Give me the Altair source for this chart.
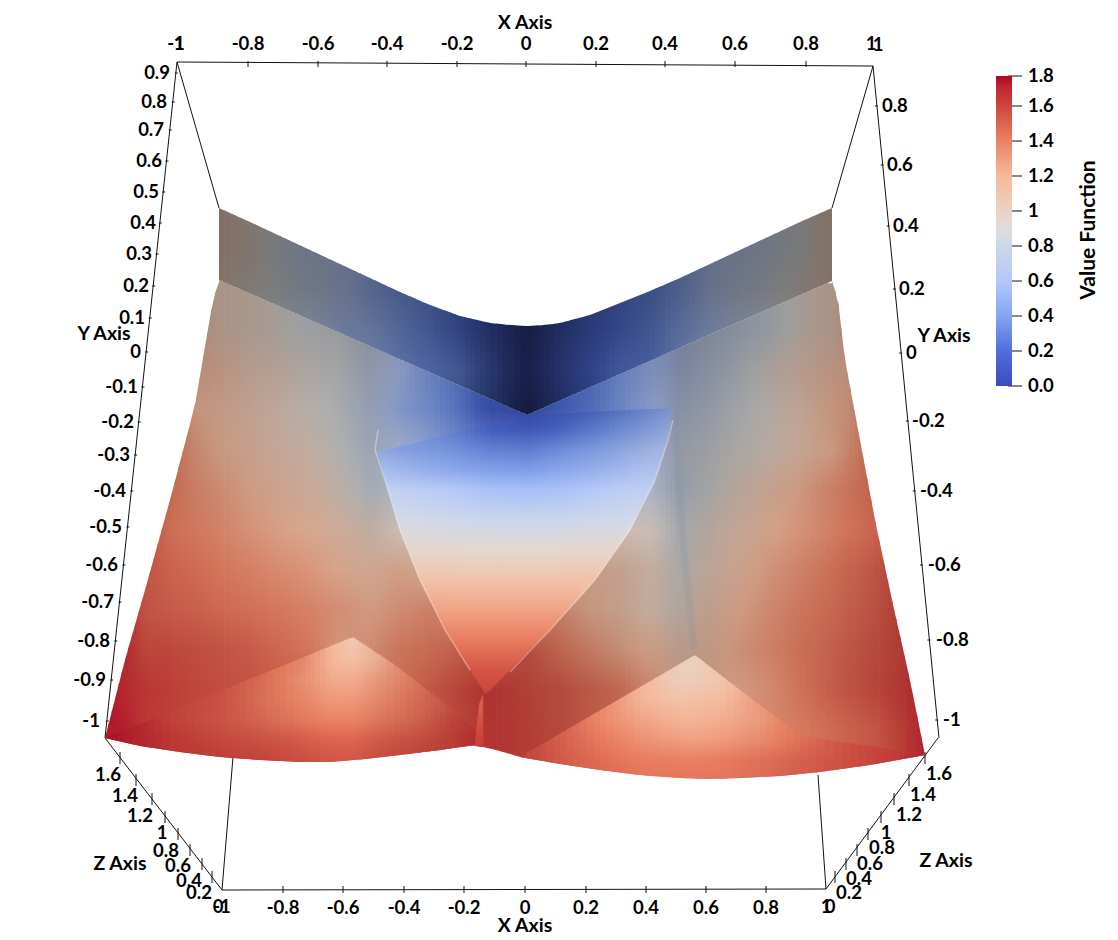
import altair as alt
import numpy as np
import pandas as pd

N = None
FONT = "Lato"
LABEL_SIZE = 18.5

# ---------- colour map ----------
CMAP_VALUES = [0.0, 0.2, 0.4, 0.6, 0.8, 0.9, 1.0, 1.2, 1.4, 1.6, 1.77]
CMAP_COLOURS = ["#3b4cc0", "#4f6edb", "#84a5f5", "#b4c8fa", "#cdd7eb", "#dddddd",
                "#ebd2c3", "#f5b99b", "#eb8264", "#cd463c", "#b40426"]
LEGEND_VALUES = [0.2, 0.4, 0.6, 0.8, 1.0, 1.2, 1.4, 1.6]
LEGEND_TICK_Y = [386, 351, 316, 281, 246, 211, 176, 141, 106, 76]
LEGEND_END_LABELS = ["0.0", "1.8"]
LEGEND_END_Y = [386, 76]

# ---------- surface outline ----------
EDGE_TOP_X = [105, 125, 145, 170, 195, 213, 219, 250, 280, 310, 340, 370, 400, 430, 460, 490, 510, 527, 545, 560, 590, 620, 650, 680, 710, 740, 770, 800, 832]
EDGE_TOP_Y = [738, 660, 590, 500, 405, 300, 208, 222, 236, 250, 264, 278, 292, 305, 316, 323, 325, 326, 325, 323, 315, 303, 291, 278, 264, 250, 236, 222, 208]
EDGE_BOT_X = [105,140,180,220,260,300,330,365,400,440,475,500,520,560,600,640,680,710,740,780,820,870,925]
EDGE_BOT_Y = [738,746,752,757,760,762,762,759,755,750,745,751,757,764,770,775,778,779,778,776,772,765,755]

# ---------- top band (above the crease through the origin) ----------
BAND_X = [219, 250, 280, 310, 340, 370, 400, 430, 460, 490, 527, 560, 590, 620, 650, 680, 710, 740, 770, 800, 832]
BAND_ROWS = [210, 250, 290, 330, 370, 410]
BAND_V = [
 [1.05,N,N,N,N,N,N,N,N,N,N,N,N,N,N,N,N,N,N,N,1.05],
 [1.05,.98,.85,.72,N,N,N,N,N,N,N,N,N,N,N,N,N,.7,.78,.9,1.05],
 [1.03,.95,.87,.76,.65,.5,.38,.3,.24,.16,.08,.14,.18,.24,.3,.42,.6,.75,.86,.95,N],
 [N,N,N,N,.58,.52,.4,.3,.22,.14,.06,.14,.15,.22,.3,.44,.58,N,N,N,N],
 [N,N,N,N,N,N,N,.33,.3,.2,.05,.14,.18,.27,N,N,N,N,N,N,N],
 [N,N,N,N,N,N,N,N,N,N,.03,N,N,N,N,N,N,N,N,N,N],
]
BAND_SHADE_COLS = [1,1,1,1,1,1,1,1,.92,.75,.55,.75,.92,1,1,1,1,1,1,1,1]
BAND_SHADE_ROWS = [.55,.55,.56,.62,.68,.6]
BAND_BOT_X = [219, 527, 832]
BAND_BOT_Y = [280, 415, 281]

# ---------- side panels ----------
BASE_X = [105,125,145,170,195,219,250,280,310,340,370,400,430,460,490,527,560,590,620,650,680,710,740,770,800,832,850,875,900,925]
BASE_ROWS = [290, 330, 370, 410, 450, 490, 530, 570, 610, 650, 690, 730]
BASE_V = [
 [N,N,N,N,N,1.05,N,N,N,N,N,N,N,N,N,N,N,N,N,N,N,N,N,N,N,1.05,N,N,N,N],
 [N,N,N,N,N,1.05,1.0,.93,.87,N,N,N,N,N,N,N,N,N,N,N,N,N,.78,.85,.95,1.05,N,N,N,N],
 [N,N,N,N,N,1.15,1.05,1.0,.93,.88,.78,.6,N,N,N,N,N,N,N,.52,.65,.76,.85,.95,1.05,1.15,1.2,N,N,N],
 [N,N,N,N,1.2,1.15,1.08,1.0,.93,.88,.75,.52,.42,.3,.12,.05,.2,.28,.4,.55,.72,.82,.88,.94,1.05,1.2,1.25,N,N,N],
 [N,N,N,N,1.28,1.2,1.12,1.05,1.0,.9,.8,.7,.55,.42,.35,.32,.42,.5,.6,.7,.82,.88,.92,.98,1.07,1.2,1.3,N,N,N],
 [N,N,N,N,1.33,1.28,1.2,1.13,1.07,.97,.85,.8,.7,.6,.55,.55,.6,.65,.7,.8,.8,.9,1.0,1.1,1.22,1.32,1.38,N,N,N],
 [N,N,N,1.42,1.38,1.34,1.27,1.22,1.16,1.08,1.0,.95,.85,.8,.8,.8,.8,.85,1.0,.95,.88,.98,1.07,1.17,1.27,1.35,1.4,1.45,N,N],
 [N,N,N,1.47,1.44,1.4,1.36,1.31,1.27,1.18,1.12,1.2,1.1,1.1,1.1,1.1,1.1,1.15,1.1,1.02,.92,1.02,1.14,1.25,1.32,1.4,1.45,1.5,N,N],
 [N,N,1.53,1.5,1.48,1.45,1.42,1.39,1.35,1.28,1.22,1.28,1.33,1.3,1.3,1.3,1.3,1.2,1.12,1.03,.96,1.1,1.2,1.3,1.37,1.43,1.47,1.52,N,N],
 [N,N,1.58,1.57,1.55,1.53,1.5,1.45,1.4,1.25,1.28,1.38,1.42,1.47,1.5,1.53,1.42,1.33,1.24,1.18,1.08,1.15,1.25,1.33,1.4,1.46,1.5,1.55,1.6,N],
 [N,1.66,1.63,1.61,1.58,1.56,1.54,1.5,1.5,1.45,1.42,1.42,1.5,1.58,1.63,1.58,1.53,1.48,1.42,1.3,1.15,1.2,1.22,1.3,1.4,1.48,1.52,1.57,1.62,N],
 [1.72,1.7,N,N,N,N,N,N,N,N,N,N,N,N,1.63,1.6,1.55,N,N,N,N,N,1.28,1.33,1.38,1.44,1.48,1.52,1.6,1.68],
]
BASE_SHADE_ROWS = [.72,.72,.76,.8,.82,.84,.88,.9,.9,.9,.92,.95]
BASE_SHADE_UPPER = [1,1,1,1,1,1,1,1,1,.97,.93,1,1,1,1,1,1,1,1,1,.86,.88,.93,.97,1,1,1,1,1,1]
BASE_SHADE_LOWER = [1,1,1,1,1,1,1,1,1,.97,.95,.95,.95,.95,.93,.92,.9,.9,.9,.92,.85,.88,.93,.95,.95,.95,.95,.95,.95,.95]
BASE_TOP_X = [105,125,145,170,195,213,219,527,832,838,845,860,875,892,910,925]
BASE_TOP_Y = [738,660,590,500,405,300,280,415,281,300,360,440,520,600,680,755]

# ---------- bottom-left patch ----------
LEFT_X = [105,125,170,219,260,300,330,353,380,420,450,482]
LEFT_ROWS = [640,660,680,700,720,740,760]
LEFT_V = [
 [N,N,N,N,N,N,N,1.08,N,N,N,N],
 [N,N,N,N,N,1.38,1.22,1.15,1.22,N,N,N],
 [N,N,N,N,1.46,1.35,1.26,1.25,1.3,1.42,N,N],
 [N,N,N,1.55,1.45,1.38,1.32,1.32,1.36,1.45,1.52,N],
 [N,N,1.6,1.54,1.48,1.42,1.4,1.4,1.42,1.48,1.57,1.64],
 [1.75,1.7,1.63,1.58,1.55,1.52,1.5,1.5,1.52,1.56,1.6,1.66],
 [N,N,N,1.62,1.6,1.57,1.55,1.55,1.57,1.6,N,N],
]
LEFT_SHADE = [.92,.92,.93,.94,.95,.97,1,1,.95,.92,.9,.88]
LEFT_TOP_X = [105,353,395,440,482]
LEFT_TOP_Y = [738,637,665,700,735]

# ---------- bottom-right patch ----------
RIGHT_X = [520,560,600,640,680,695,720,760,800,850,900,925]
RIGHT_ROWS = [660,680,700,720,740,760,780]
RIGHT_V = [
 [N,N,N,N,N,1.02,N,N,N,N,N,N],
 [N,N,N,N,1.04,1.05,1.1,N,N,N,N,N],
 [N,N,N,1.22,1.13,1.15,1.18,N,N,N,N,N],
 [N,N,1.38,1.28,1.22,1.22,1.24,1.3,N,N,N,N],
 [N,1.5,1.43,1.35,1.3,1.29,1.31,1.36,1.44,N,N,N],
 [1.6,1.52,1.47,1.42,1.41,1.41,1.42,1.45,1.5,1.56,1.63,1.68],
 [N,N,1.5,1.45,1.44,1.44,1.44,1.47,1.52,N,N,N],
]
RIGHT_SHADE = [.93,.96,1,1,1,1,1,.98,.97,.96,.95,.93]
RIGHT_TOP_X = [520,695,740,800,925]
RIGHT_TOP_Y = [757,655,690,735,755]

# ---------- central heart ----------
HEART_X = [378,400,430,460,490,527,560,590,620,650,673]
HEART_ROWS = [410,430,450,470,490,520,550,580,610,640,670,700]
HEART_V = [
 [N,N,N,N,N,.05,.14,.22,.3,.4,.5],
 [N,N,.38,.3,.2,.15,.22,.3,.38,.48,.56],
 [.52,.47,.42,.37,.32,.3,.36,.42,.5,.58,.62],
 [.6,.55,.5,.46,.42,.4,.46,.5,.56,.62,.66],
 [.72,.7,.65,.6,.56,.55,.56,.6,.66,.7,.72],
 [.84,.84,.82,.8,.78,.78,.78,.8,.82,.84,.84],
 [.97,.97,.96,.95,.95,.95,.95,.96,.97,.97,.97],
 [1.13,1.13,1.13,1.12,1.12,1.12,1.12,1.13,1.13,1.13,1.13],
 [1.28,1.28,1.28,1.28,1.28,1.28,1.28,1.28,1.28,1.28,1.28],
 [1.42,1.42,1.42,1.42,1.42,1.42,1.42,1.42,1.42,1.42,1.42],
 [1.55,1.55,1.55,1.55,1.55,1.55,1.55,1.55,1.55,1.55,1.55],
 [1.62,1.62,1.62,1.62,1.62,1.62,1.62,1.62,1.62,1.62,1.62],
]
HEART_SHADE_ROWS = [.82,.86,.9,.95,1,1,1,1,1,1,1,1]
HEART_TOP_X = [378,527,673]
HEART_TOP_Y = [452,415,408]
HEART_BOT_X = [378,385,400,420,445,470,486,505,550,595,630,655,668,673]
HEART_BOT_Y = [452,480,530,580,630,670,695,675,630,580,530,480,440,408]

# ---------- red seam at the notch ----------
SEAM_X = [475,479,483]
SEAM_ROWS = [695,745]
SEAM_V = [[1.5,1.5,1.5],[1.62,1.62,1.62]]
SEAM_TOP_X = [475,479,483]
SEAM_TOP_Y = [745,705,695]
SEAM_BOT_X = [475,483]
SEAM_BOT_Y = [746,747]

# ---------- crease highlights ----------
CREASE_L_X = [378,375,385,400,420,445,470]
CREASE_L_Y = [430,450,480,530,580,630,670]
CREASE_R_X = [673,668,655,630,595,550,510]
CREASE_R_Y = [420,440,480,530,580,630,672]
SERR_X = [675,678,683,690,694]
SERR_Y = [412,470,540,610,650]

# ---------- box and axes ----------
BOX_X1 = [177,177,873,177,105,938,233,818,222,873]
BOX_Y1 = [62,62,66,62,738,738,757,775,890,66]
BOX_X2 = [873,219,832,105,222,826,222,826,826,939]
BOX_Y2 = [66,208,208,738,890,889,890,889,889,738]

TOP_LABELS = ["-1","1","-0.8","-0.6","-0.4","-0.2","0","0.2","0.4","0.6","0.8","1","1"]
TOP_LABEL_X = [176,179,248,318,387,457,526,596,665,735,806,871,878]
TOP_LABEL_Y = [44,44,44,44,44,44,44,44,44,44,44,44,45]
BOTTOM_LABELS = ["0","-1","-0.8","-0.6","-0.4","-0.2","0","0.2","0.4","0.6","0.8","1","0"]
BOTTOM_LABEL_X = [218,222,283,343,404,464,525,586,646,706,766,826,830]
BOTTOM_LABEL_Y = [907,907,908,908,908,908,908,908,908,908,908,907,907]

YL_LABELS = ["0.9","0.8","0.7","0.6","0.5","0.4","0.3","0.2","0.1","0","-0.1","-0.2","-0.3","-0.4","-0.5","-0.6","-0.7","-0.8","-0.9","-1"]
YL_X = [170,167,164,162,159,156,152,149,145,141,138,134,130,126,122,118,114,110,106,100]
YL_Y = [73,102,130,161,192,223,254,286,318,352,387,422,455,491,527,565,602,641,680,721]
YR_LABELS = ["0.8","0.6","0.4","0.2","0","-0.2","-0.4","-0.6","-0.8","-1"]
YR_X = [882,887,893,899,906,912,920,928,936,943]
YR_Y = [106,165,226,289,353,421,491,565,640,720]

ZL_LABELS = ["1.6","1.4","1.2","1","0.8","0.6","0.4","0.2"]
ZL_X = [108,125,140,162,166,178,189,199]
ZL_Y = [775,796,816,833,851,866,881,893]
ZR_LABELS = ["1.6","1.4","1.2","1","0.8","0.6","0.4","0.2"]
ZR_X = [939,923,909,886,882,870,859,849]
ZR_Y = [774,795,815,833,848,864,879,893]
ZL_TICK_X = [120,136,152,165,178,190,202,212]
ZR_TICK_X = [925,909,894,881,868,857,846,835]
Z_TICK_Y = [758,780,799,817,834,850,864,877]

TITLES = ["X Axis","X Axis","Y Axis","Y Axis","Z Axis","Z Axis"]
TITLE_X = [525,525,104,944,120,946]
TITLE_Y = [23,926,334,336,864,861]

# ---------- helpers ----------
XS = alt.Scale(domain=[8,1110], nice=False, zero=False)
YS = alt.Scale(domain=[937,8], nice=False, zero=False)
XE = alt.X("x:Q", scale=XS, axis=None)
YE = alt.Y("y:Q", scale=YS, axis=None)

def rgb(h):
    return np.array([int(h[i:i+2],16) for i in (1,3,5)], float)
CM = np.array([rgb(c) for c in CMAP_COLOURS])

def colour(v, s):
    c = np.array([np.interp(v, CMAP_VALUES, CM[:,k]) for k in range(3)])*s
    return "#%02x%02x%02x" % tuple(int(round(min(255,a))) for a in c)

def filled(tbl):
    a = np.array([[np.nan if t is None else t for t in r] for r in tbl], float)
    for j in range(a.shape[1]):
        ok = np.where(~np.isnan(a[:,j]))[0]
        for i in range(a.shape[0]):
            if np.isnan(a[i,j]) and len(ok):
                a[i,j] = a[ok[np.argmin(abs(ok-i))],j]
    oks = [k for k in range(a.shape[1]) if not np.isnan(a[0,k])]
    for j in range(a.shape[1]):
        if np.isnan(a[0,j]):
            a[:,j] = a[:,oks[int(np.argmin([abs(k-j) for k in oks]))]]
    return a

SUB = 6
def patch(xs, tx, ty, bx, by, rows, vt, shade=None):
    V = filled(vt)
    S = np.ones(V.shape) if shade is None else shade
    out = []
    for i in range(len(xs)-1):
        for k in range(SUB):
            a = xs[i]+(xs[i+1]-xs[i])*k/SUB
            b = xs[i]+(xs[i+1]-xs[i])*(k+1)/SUB
            f = (k+.5)/SUB
            last = (i == len(xs)-2 and k == SUB-1)
            xx = np.array([a, b if last else b+.7])
            t = np.interp(xx, tx, ty); bt = np.maximum(np.interp(xx, bx, by), t)
            lo, hi = t.min(), bt.max()
            if hi-lo < .2: continue
            vals = V[:,i]*(1-f)+V[:,i+1]*f
            sh = S[:,i]*(1-f)+S[:,i+1]*f
            ends = [(lo, 0.0), (hi, 1.0)]
            inner = [(r, float((r-lo)/(hi-lo))) for r in rows if lo < r < hi]
            at = [ends[0]] + inner + [ends[1]]
            stops = [alt.GradientStop(color=colour(np.interp(r,rows,vals), np.interp(r,rows,sh)), offset=o)
                     for r,o in at]
            grad = alt.Gradient(gradient="linear", stops=stops, x1=0, x2=0, y1=0, y2=1)
            df = pd.DataFrame({"x":xx, "y":t, "y2":bt})
            out.append(alt.Chart(df).mark_area(color=grad, interpolate="linear", line=False)
                       .encode(x=XE, y=YE, y2=alt.Y2("y2:Q")))
    return out

def text_layer(labels, xs, ys, align="center", size=LABEL_SIZE, angle=None):
    df = pd.DataFrame({"x":xs,"y":ys,"t":labels})
    kw = {} if angle is None else {"angle":angle}
    return alt.Chart(df).mark_text(font=FONT, fontSize=size, fontWeight="bold", align=align,
                                   baseline="middle", color="#000000", **kw).encode(x=XE,y=YE,text="t:N")

def rules(x1,y1,x2,y2,width=1,color="#111111"):
    df = pd.DataFrame({"x":x1,"y":y1,"x2":x2,"y2":y2})
    return alt.Chart(df).mark_rule(color=color, strokeWidth=width).encode(
        x=XE,y=YE,x2=alt.X2("x2:Q"),y2=alt.Y2("y2:Q"))

def path(xs,ys,width,color,opacity):
    df = pd.DataFrame({"x":xs,"y":ys,"o":range(len(xs))})
    return alt.Chart(df).mark_line(color=color,strokeWidth=width,opacity=opacity).encode(
        x=XE,y=YE,order="o:Q")

# ---------- layers ----------
layers = [rules(BOX_X1,BOX_Y1,BOX_X2,BOX_Y2)]

tx = TOP_LABEL_X[2:11]
layers.append(rules(tx,[61]*9,tx,[67]*9))
bx = BOTTOM_LABEL_X[2:11]
layers.append(rules(bx,[886]*9,bx,[893]*9))
layers.append(rules(ZL_TICK_X,[y-6 for y in Z_TICK_Y],ZL_TICK_X,[y+6 for y in Z_TICK_Y]))
layers.append(rules(ZR_TICK_X,[y-6 for y in Z_TICK_Y],ZR_TICK_X,[y+6 for y in Z_TICK_Y]))
ylx = list(np.interp(YL_Y,[62,738],[177,105]))
layers.append(rules([a-1 for a in ylx],YL_Y,[a+2 for a in ylx],YL_Y))
yrx = list(np.interp(YR_Y,[66,738],[873,939]))
layers.append(rules([a-2 for a in yrx],YR_Y,[a+1 for a in yrx],YR_Y))

base_cols = np.array([BASE_SHADE_UPPER if r < 570 else BASE_SHADE_LOWER for r in BASE_ROWS], float)
base_shade = base_cols*np.array(BASE_SHADE_ROWS)[:,None]
band_shade = np.array(BAND_SHADE_COLS)[None,:]*np.array(BAND_SHADE_ROWS)[:,None]
left_shade = np.tile(np.array(LEFT_SHADE),(len(LEFT_ROWS),1))
right_shade = np.tile(np.array(RIGHT_SHADE),(len(RIGHT_ROWS),1))
heart_shade = np.tile(np.array(HEART_SHADE_ROWS)[:,None],(1,len(HEART_X)))

layers += patch(BASE_X, BASE_TOP_X, BASE_TOP_Y, EDGE_BOT_X, EDGE_BOT_Y, BASE_ROWS, BASE_V, base_shade)
layers += patch(BAND_X, EDGE_TOP_X, EDGE_TOP_Y, BAND_BOT_X, BAND_BOT_Y, BAND_ROWS, BAND_V, band_shade)
layers += patch(LEFT_X, LEFT_TOP_X, LEFT_TOP_Y, EDGE_BOT_X, EDGE_BOT_Y, LEFT_ROWS, LEFT_V, left_shade)
layers += patch(RIGHT_X, RIGHT_TOP_X, RIGHT_TOP_Y, EDGE_BOT_X, EDGE_BOT_Y, RIGHT_ROWS, RIGHT_V, right_shade)
layers += patch(HEART_X, HEART_TOP_X, HEART_TOP_Y, HEART_BOT_X, HEART_BOT_Y, HEART_ROWS, HEART_V, heart_shade)
layers += patch(SEAM_X, SEAM_TOP_X, SEAM_TOP_Y, SEAM_BOT_X, SEAM_BOT_Y, SEAM_ROWS, SEAM_V)

layers.append(path(SERR_X,SERR_Y,7,"#7f92a6",0.2))
layers.append(path(CREASE_L_X,CREASE_L_Y,1.5,"#ffffff",0.35))
layers.append(path(CREASE_R_X,CREASE_R_Y,1.5,"#ffffff",0.35))

layers.append(text_layer(TOP_LABELS,TOP_LABEL_X,TOP_LABEL_Y))
layers.append(text_layer(BOTTOM_LABELS,BOTTOM_LABEL_X,BOTTOM_LABEL_Y))
layers.append(text_layer(YL_LABELS,YL_X,YL_Y,align="right"))
layers.append(text_layer(YR_LABELS,YR_X,YR_Y,align="left"))
layers.append(text_layer(ZL_LABELS,ZL_X,ZL_Y))
layers.append(text_layer(ZR_LABELS,ZR_X,ZR_Y))
layers.append(text_layer(TITLES,TITLE_X,TITLE_Y,size=19.5))
layers.append(text_layer(["Value Function"],[1089],[230],size=21,angle=270))
layers.append(text_layer(LEGEND_END_LABELS,[1028,1028],LEGEND_END_Y,align="left"))

# colour bar (native legend)
leg_df = pd.DataFrame({"v":CMAP_VALUES,"x":[1000]*len(CMAP_VALUES),"y":[100]*len(CMAP_VALUES)})
layers.append(alt.Chart(leg_df).mark_point(opacity=0).encode(
    x=XE,y=YE,
    color=alt.Color("v:Q",
        scale=alt.Scale(domain=CMAP_VALUES, range=CMAP_COLOURS),
        legend=alt.Legend(orient="none", legendX=988, legendY=68, direction="vertical", title=None,
            gradientLength=310, gradientThickness=16, values=LEGEND_VALUES, labelFont=FONT,
            labelFontSize=LABEL_SIZE, labelFontWeight="bold", labelColor="#000000", labelOffset=16, labelOverlap=False,
            labelExpr="format(datum.value,'~g')"))))
layers.append(rules([1008]*10,LEGEND_TICK_Y,[1022]*10,LEGEND_TICK_Y))

chart = alt.layer(*layers).properties(width=1102, height=929, padding=0, autosize="none", background="#ffffff").configure_view(stroke=None)
chart.save("out.html", embed_options={"renderer": "svg", "actions": False})
